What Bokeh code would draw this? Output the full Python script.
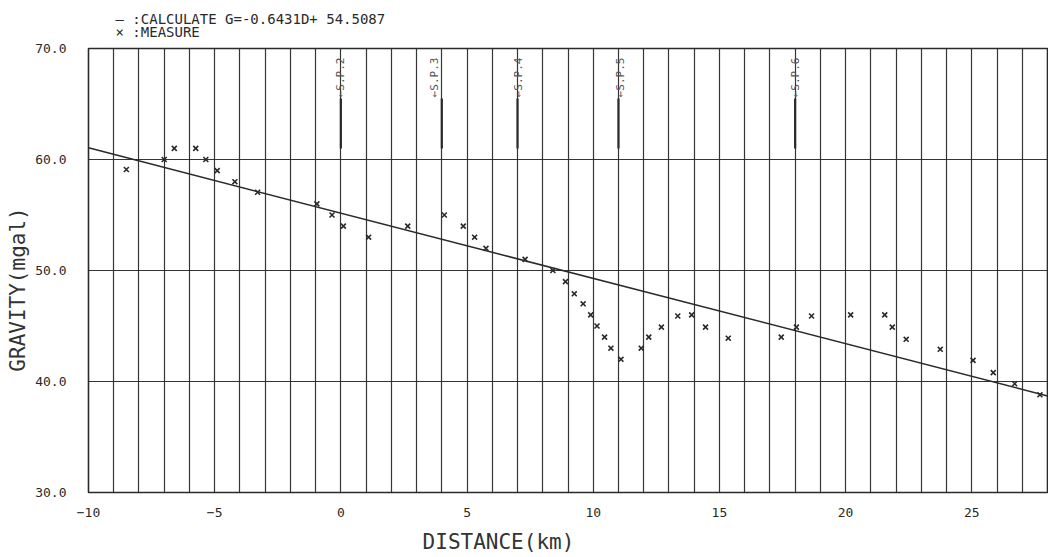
import numpy as np
from bokeh.plotting import figure
from bokeh.models import (ColumnDataSource, Label, Title, FixedTicker, SingleIntervalTicker,
                          NumeralTickFormatter, Range1d)
from bokeh.embed import file_html
from bokeh.resources import INLINE

# ---- data ----
distance = [-8.5, -7.0, -6.6, -5.75, -5.35, -4.9, -4.2, -3.3, -0.95, -0.35, 0.1, 1.1,
            2.65, 4.1, 4.85, 5.3, 5.75, 7.3, 8.4, 8.9, 9.25, 9.6, 9.9, 10.15, 10.45,
            10.7, 11.1, 11.9, 12.2, 12.7, 13.35, 13.9, 14.45, 15.35, 17.45, 18.05,
            18.65, 20.2, 21.55, 21.85, 22.4, 23.75, 25.05, 25.85, 26.7, 27.7]
gravity = [59.1, 60.0, 61.0, 61.0, 60.0, 59.0, 58.0, 57.05, 56.0, 55.0, 54.0, 53.0,
           54.0, 55.0, 54.0, 53.0, 52.0, 51.0, 50.0, 49.0, 47.9, 47.0, 46.0, 45.0, 44.0,
           43.0, 42.0, 43.0, 44.0, 44.9, 45.9, 46.0, 44.9, 43.9, 44.0, 44.9,
           45.9, 46.0, 46.0, 44.9, 43.8, 42.9, 41.9, 40.8, 39.8, 38.8]

fit_d = [-10, 28]
fit_g = [61.05, 38.7]

sp_d = [0.0, 3.7, 7.05, 11.1, 18.0]
sp_names = ["S.P.2", "S.P.3", "S.P.4", "S.P.5", "S.P.6"]

x_ticks = [-10, -5, 0, 5, 10, 15, 20, 25]
y_ticks = [30, 40, 50, 60, 70]
y_grid = [40, 50, 60]

legend_lines = ["— :CALCULATE G=-0.6431D+ 54.5087", "× :MEASURE"]
x_title = "DISTANCE(km)"
y_title = "GRAVITY(mgal)"

FONT = "DejaVu Sans Mono"
INK = "#2a2a2a"
NBSP = "\u00a0"

p = figure(width=1048, height=556, output_backend="svg", toolbar_location=None,
           title=None,
           x_range=Range1d(-10, 28), y_range=Range1d(30, 70),
           min_border_left=88, min_border_right=1, min_border_top=48, min_border_bottom=59)
p.background_fill_color = "white"
p.border_fill_color = "white"
p.outline_line_color = INK
p.outline_line_width = 1.6

# legend text as a two-line title
p.add_layout(Title(text=legend_lines[0] + "\n" + legend_lines[1], align="left",
                   offset=27, standoff=17, text_line_height=0.8,
                   text_font=FONT, text_font_size="14px", text_font_style="normal",
                   text_color=INK), "above")

# axes
for ax in (p.xaxis[0], p.yaxis[0]):
    ax.axis_line_color = None
    ax.major_tick_line_color = None
    ax.minor_tick_line_color = None
    ax.major_label_text_font = FONT
    ax.major_label_text_font_size = "13px"
    ax.major_label_text_color = INK
    ax.axis_label_text_font = FONT
    ax.axis_label_text_font_size = "21px"
    ax.axis_label_text_font_style = "normal"
    ax.axis_label_text_color = "#333333"
p.xaxis.ticker = FixedTicker(ticks=x_ticks)
p.yaxis.ticker = FixedTicker(ticks=y_ticks)
p.yaxis.formatter = NumeralTickFormatter(format="0.0")
p.xaxis.major_label_standoff = 9
p.yaxis.major_label_standoff = 16
p.xaxis.axis_label = x_title + NBSP * 11
p.yaxis.axis_label = y_title + NBSP * 3
p.xaxis.axis_label_standoff = 10
p.yaxis.axis_label_standoff = 2

# grid
p.xgrid.ticker = SingleIntervalTicker(interval=1)
p.ygrid.ticker = FixedTicker(ticks=y_grid)
for g in (p.xgrid[0], p.ygrid[0]):
    g.grid_line_color = INK
    g.grid_line_width = 1.2
    g.grid_line_alpha = 0.95

# fitted line
p.line(fit_d, fit_g, line_color=INK, line_width=1.5)

# measurements
src = ColumnDataSource(dict(d=distance, g=gravity))
p.scatter("d", "g", source=src, marker="x", size=7, line_width=1.6, line_color=INK)

# S.P. markers
sp_line_x = list(np.round(sp_d))
p.segment(x0=sp_line_x, y0=[65.5] * len(sp_d), x1=sp_line_x, y1=[61.0] * len(sp_d),
          line_color=INK, line_width=2.2)
for d, name in zip(sp_d, sp_names):
    p.add_layout(Label(x=d, y=65.6, text="←" + name, angle=np.pi / 2,
                       text_align="left", text_baseline="middle",
                       text_font=FONT, text_font_size="11px", text_color="#555555"))

open("out.html", "w").write(file_html(p, INLINE))
